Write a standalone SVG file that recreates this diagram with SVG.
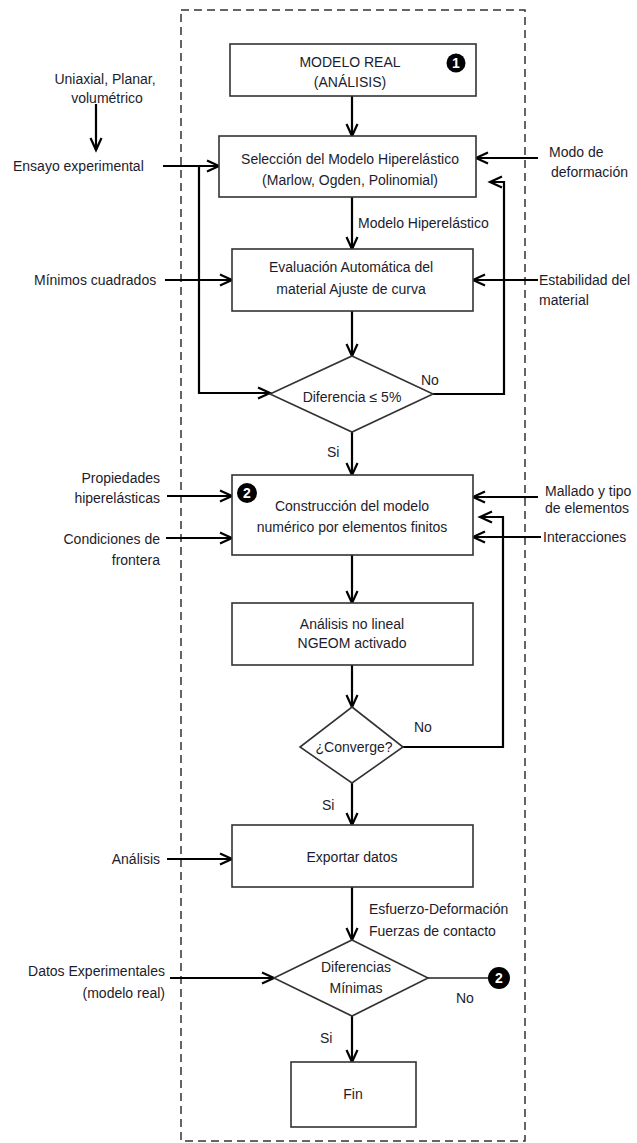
<svg xmlns="http://www.w3.org/2000/svg" width="637" height="1143" viewBox="0 0 637 1143">
<defs>
<marker id="ah" markerUnits="userSpaceOnUse" markerWidth="16" markerHeight="14" refX="13" refY="7" orient="auto">
<path d="M1,1.5 L13,7 L1,12.5" fill="none" stroke="#000" stroke-width="2.2"/>
</marker>
</defs>
<style>
.box{fill:#fff;stroke:#333;stroke-width:1.6}
.t{font-family:"Liberation Sans",Arial,sans-serif;font-size:14px;fill:#1c1c2c}
.m{text-anchor:middle}
.e{text-anchor:end}
.c{fill:none;stroke:#000;stroke-width:2.2}
.ca{fill:none;stroke:#000;stroke-width:2.2;marker-end:url(#ah)}
.badge{fill:#000}
.bt{font-family:"Liberation Sans",Arial,sans-serif;font-size:14px;font-weight:bold;fill:#fff;text-anchor:middle}
</style>
<rect x="181" y="10" width="344" height="1131" fill="none" stroke="#333" stroke-width="1.5" stroke-dasharray="8,5"/>

<g id="connectors">
<path class="ca" d="M96,104 V150"/>
<path class="ca" d="M163,166 H219"/>
<path class="ca" d="M199,166 V393 H270"/>
<path class="ca" d="M352,96 V136"/>
<path class="ca" d="M538,158 H476"/>
<path class="ca" d="M433,394 H504 V182 H490"/>
<path class="ca" d="M352,197 V249"/>
<path class="ca" d="M165,280 H232"/>
<path class="ca" d="M538,280 H473"/>
<path class="ca" d="M352,311 V356"/>
<path class="ca" d="M352,432 V475"/>
<path class="ca" d="M167,496 H232"/>
<path class="ca" d="M166,538 H232"/>
<path class="ca" d="M538,497 H473"/>
<path class="ca" d="M403,747 H503 V517 H480"/>
<path class="ca" d="M541,537 H473"/>
<path class="ca" d="M352,555 V603"/>
<path class="ca" d="M352,665 V707"/>
<path class="ca" d="M352,783 V825"/>
<path class="ca" d="M167,859 H232"/>
<path class="ca" d="M352,887 V940"/>
<path class="ca" d="M170,978 H274"/>
<path d="M428,978 H490" fill="none" stroke="#222" stroke-width="1.6"/>
<path class="ca" d="M352,1016 V1062"/>
<text class="t" x="358" y="228">Modelo Hiperelástico</text>
<text class="t" x="421" y="385">No</text>
<text class="t" x="327" y="457">Si</text>
<text class="t" x="414" y="732">No</text>
<text class="t" x="322" y="810">Si</text>
<text class="t" x="369" y="914">Esfuerzo-Deformación</text>
<text class="t" x="369" y="936">Fuerzas de contacto</text>
<text class="t" x="456" y="1003">No</text>
<text class="t" x="320" y="1043">Si</text>
</g>

<g id="lbl-uniaxial">
<text class="t m" x="105" y="84">Uniaxial, Planar,</text>
<text class="t m" x="107" y="103">volumétrico</text>
</g>
<g id="lbl-ensayo"><text class="t" x="13" y="171">Ensayo experimental</text></g>
<g id="lbl-minimos"><text class="t" x="34" y="285">Mínimos cuadrados</text></g>
<g id="lbl-propiedades">
<text class="t e" x="160" y="483">Propiedades</text>
<text class="t e" x="160" y="503">hiperelásticas</text>
</g>
<g id="lbl-condiciones">
<text class="t e" x="160" y="544">Condiciones de</text>
<text class="t e" x="160" y="565">frontera</text>
</g>
<g id="lbl-analisis"><text class="t e" x="160" y="864">Análisis</text></g>
<g id="lbl-datos">
<text class="t e" x="165" y="976">Datos Experimentales</text>
<text class="t e" x="165" y="998">(modelo real)</text>
</g>
<g id="lbl-modo">
<text class="t" x="549" y="157">Modo de</text>
<text class="t" x="551" y="177">deformación</text>
</g>
<g id="lbl-estabilidad">
<text class="t" x="539" y="285">Estabilidad del</text>
<text class="t" x="539" y="305">material</text>
</g>
<g id="lbl-mallado">
<text class="t" x="545" y="496">Mallado y tipo</text>
<text class="t" x="545" y="513">de elementos</text>
</g>
<g id="lbl-interacciones"><text class="t" x="543" y="542">Interacciones</text></g>

<g id="n-modelo-real">
<rect class="box" x="230" y="44" width="246" height="52"/>
<text class="t m" x="350" y="67">MODELO REAL</text>
<text class="t m" x="350" y="87">(ANÁLISIS)</text>
<circle class="badge" cx="456" cy="63" r="9.5"/>
<text class="bt" x="456" y="68">1</text>
</g>
<g id="n-seleccion">
<rect class="box" x="219" y="136" width="257" height="61"/>
<text class="t m" x="350" y="164">Selección del Modelo Hiperelástico</text>
<text class="t m" x="350" y="185">(Marlow, Ogden, Polinomial)</text>
</g>
<g id="n-evaluacion">
<rect class="box" x="232" y="249" width="241" height="62"/>
<text class="t m" x="351" y="272">Evaluación Automática del</text>
<text class="t m" x="351" y="294">material Ajuste de curva</text>
</g>
<g id="n-diferencia">
<polygon class="box" points="352,356 433,394 352,432 270,394"/>
<text class="t m" x="352" y="402">Diferencia ≤ 5%</text>
</g>
<g id="n-construccion">
<rect class="box" x="232" y="475" width="241" height="80"/>
<circle class="badge" cx="247" cy="493" r="10"/>
<text class="bt" x="247" y="498">2</text>
<text class="t m" x="352" y="511">Construcción del modelo</text>
<text class="t m" x="352" y="532">numérico por elementos finitos</text>
</g>
<g id="n-analisis-nl">
<rect class="box" x="232" y="603" width="241" height="62"/>
<text class="t m" x="352" y="629">Análisis no lineal</text>
<text class="t m" x="352" y="648">NGEOM activado</text>
</g>
<g id="n-converge">
<polygon class="box" points="352,707 403,747 352,783 300,747"/>
<text class="t m" x="354" y="752">¿Converge?</text>
</g>
<g id="n-exportar">
<rect class="box" x="232" y="825" width="241" height="62"/>
<text class="t m" x="352" y="862">Exportar datos</text>
</g>
<g id="n-diferencias">
<polygon class="box" points="352,940 428,978 352,1016 274,978"/>
<text class="t m" x="356" y="972">Diferencias</text>
<text class="t m" x="356" y="993">Mínimas</text>
</g>
<g id="n-badge2">
<circle class="badge" cx="499" cy="978" r="11"/>
<text class="bt" x="499" y="983">2</text>
</g>
<g id="n-fin">
<rect class="box" x="291" y="1062" width="125" height="65"/>
<text class="t m" x="353" y="1099">Fin</text>
</g>
</svg>
